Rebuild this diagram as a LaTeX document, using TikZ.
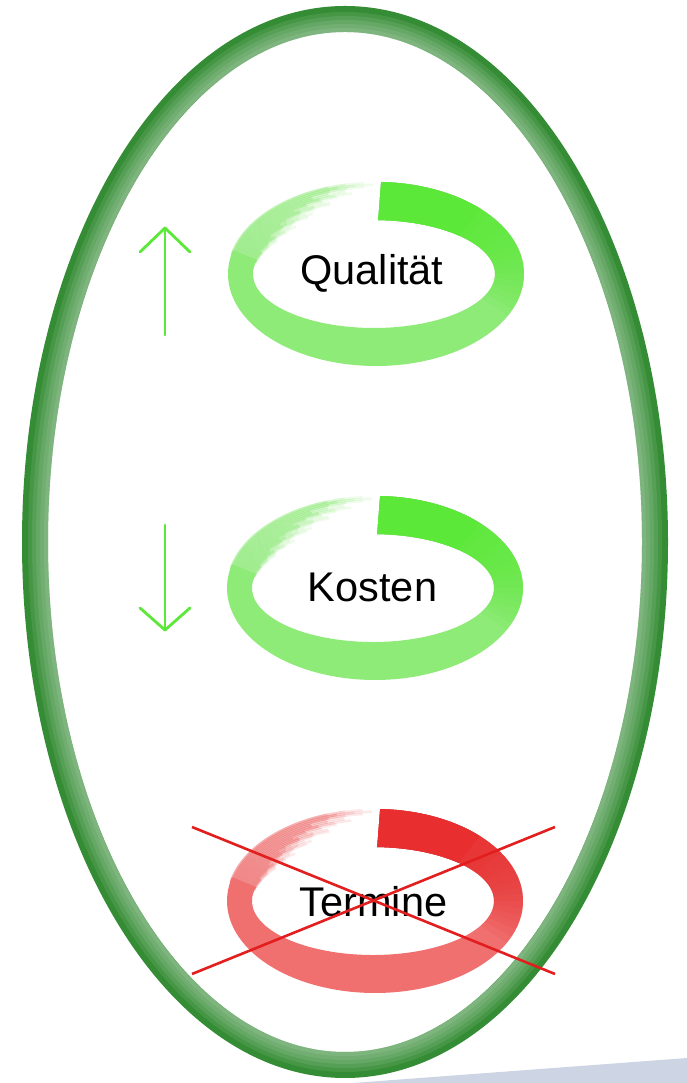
\documentclass[tikz,border=0pt]{standalone}
\usepackage{fontspec}
\setmainfont{Liberation Sans}
\usetikzlibrary{calc}
\definecolor{bigg}{RGB}{52,140,52}
\definecolor{gsat}{RGB}{92,232,56}
\definecolor{glight}{RGB}{142,235,120}
\definecolor{rsat}{RGB}{232,46,46}
\definecolor{rlight}{RGB}{240,112,112}
\definecolor{xred}{RGB}{226,30,30}
\definecolor{bandc}{RGB}{205,213,228}

\newcommand\ringfill[4]{\fill[#4] ($(#1)+(#2:148 and 92)$) arc[start angle=#2, end angle=#3, x radius=148, y radius=92] -- ($(#1)+(-2,0)+(#3:121 and 54)$) arc[start angle=#3, end angle=#2, x radius=121, y radius=54] -- cycle;}

\newcommand\strand[5]{% center, colour, s, end angle, opacity
  \draw[#2, line width=2.6, opacity=#5] ($(#1)+(-2+2*#3,0)+(-192:121+27*#3 and 54+38*#3)$) arc[start angle=-192, end angle=#4, x radius=121+27*#3, y radius=54+38*#3];}

\newcommand\brushring[3]{%
  \ringfill{#1}{88}{-195}{#3}
  \ringfill{#1}{88}{45}{#2}
  \foreach \k in {1,...,16}{\pgfmathsetmacro\myEnd{45-4.5*\k}\ringfill{#1}{88}{\myEnd}{#2,opacity=0.1}}
  \foreach \i in {0,...,19}{%
    \pgfmathsetmacro\s{0.025+0.05*\i}
    \pgfmathsetmacro\myE{-200-55*(\s^0.8)+4*sin(\i*97)}
    \pgfmathsetmacro\myEa{\myE-7}
    \pgfmathsetmacro\myEb{\myE-14}
    \strand{#1}{#3}{\s}{\myEb}{0.14}
    \strand{#1}{#3}{\s}{\myEa}{0.2}
    \strand{#1}{#3}{\s}{\myE}{0.35}
  }%
}

\tikzset{
  lbl/.style={font=\fontsize{41.5}{48}\selectfont, text=black, inner sep=0pt, anchor=base},
  greenarrow/.style={draw=gsat, line width=2.8, line cap=round, line join=round},
  crossline/.style={draw=xred, line width=2.6},
}

\begin{document}
\begin{tikzpicture}[x=1pt,y=1pt]
\useasboundingbox (0,0) rectangle (687,1083);
\fill[white] (0,0) rectangle (687,1083);

% grey-blue band at the bottom right
\coordinate (b1) at (353,0);
\coordinate (b2) at (687,25);
\coordinate (b3) at (687,0);
\fill[bandc] (b1) -- (b2) -- (b3) -- cycle;

% big green ellipse: dark outer edge fading towards the inside
\coordinate (bigc) at (345,541);
\draw[bigg, line width=26] (bigc) ellipse[x radius=310, y radius=523];
\foreach \w in {4,8,12,16,20}{%
  \pgfmathsetmacro\myr{297+\w/2}\pgfmathsetmacro\myR{510+\w/2}
  \draw[white, opacity=0.09, line width=\w] (bigc) ellipse[x radius=\myr pt, y radius=\myR pt];
}

% rings
\coordinate (q) at (376,809);
\coordinate (k) at (375,495);
\coordinate (t) at (375,182);
\brushring{q}{gsat}{glight}
\brushring{k}{gsat}{glight}
\brushring{t}{rsat}{rlight}

% labels
\node[lbl] (tq) at (372,798) {Qualität};
\node[lbl] (tk) at (372.5,481) {Kosten};
\node[lbl] (tt) at (373.5,166) {Termine};

% cross over Termine
\coordinate (x1) at (192,256);
\coordinate (x2) at (555,109);
\coordinate (x3) at (192,109);
\coordinate (x4) at (555,256);
\draw[crossline] (x1) -- (x2);
\draw[crossline] (x3) -- (x4);

% up arrow
\coordinate (uTip) at (165,855);
\coordinate (uTail) at (165,748);
\coordinate (uL) at (140,831);
\coordinate (uR) at (190,831);
\draw[greenarrow] (uTail) -- (uTip);
\draw[greenarrow] (uL) -- (uTip) -- (uR);

% down arrow
\coordinate (dTail) at (165,558);
\coordinate (dTip) at (165,453);
\coordinate (dL) at (140,475);
\coordinate (dR) at (190,475);
\draw[greenarrow] (dTail) -- (dTip);
\draw[greenarrow] (dL) -- (dTip) -- (dR);
\end{tikzpicture}
\end{document}
